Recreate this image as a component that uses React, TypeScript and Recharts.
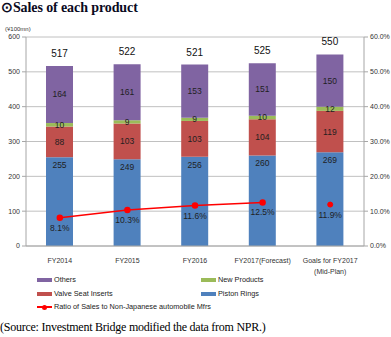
import {
  ComposedChart,
  Bar,
  Line,
  XAxis,
  YAxis,
  CartesianGrid,
  LabelList,
} from 'recharts';

const categories = ['FY2014', 'FY2015', 'FY2016', 'FY2017(Forecast)', 'Goals for FY2017\n(Mid-Plan)'];
const pistonRings = [255, 249, 256, 260, 269];
const valveSeatInserts = [88, 103, 103, 104, 119];
const newProducts = [10, 9, 9, 10, 12];
const others = [164, 161, 153, 151, 150];
const totals = [517, 522, 521, 525, 550];
const ratioActual = [8.1, 10.3, 11.6, 12.5, null];
const ratioGoal = [null, null, null, null, 11.9];
const leftTicks = [0, 100, 200, 300, 400, 500, 600];
const rightTicks = [0, 10, 20, 30, 40, 50, 60];

const COLORS = {
  piston: '#4f81bd',
  valve: '#c0504d',
  newProd: '#9bbb59',
  others: '#8064a2',
  ratio: '#ff0000',
};

const FONT = '"Liberation Sans", Arial, sans-serif';

const data = categories.map((name, i) => ({
  name,
  piston: pistonRings[i],
  valve: valveSeatInserts[i],
  newProd: newProducts[i],
  others: others[i],
  total: totals[i],
  ratio: ratioActual[i],
  ratioGoal: ratioGoal[i],
}));

const segLabel = { fontSize: 8.5, fill: '#1f1f1f', fontFamily: FONT };

function XTick({ x, y, payload }: any) {
  const lines = String(payload.value).split('\n');
  return (
    <text x={x} y={y + 9} textAnchor="middle" fontSize={7} fill="#333" fontFamily={FONT}>
      {lines.map((l, i) => (
        <tspan key={i} x={x} dy={i === 0 ? 0 : 11}>
          {l}
        </tspan>
      ))}
    </text>
  );
}

function TotalLabel(props: any) {
  const { x, y, width, index } = props;
  return (
    <text
      x={x + width / 2}
      y={y - 9}
      textAnchor="middle"
      fontSize={10}
      fill="#111"
      fontFamily={FONT}
    >
      {totals[index]}
    </text>
  );
}

function Swatch({ color }: { color: string }) {
  return <span style={{ display: 'inline-block', width: 15, height: 4, background: color, marginRight: 2 }} />;
}

const legendText: React.CSSProperties = {
  position: 'absolute',
  fontFamily: FONT,
  fontSize: 7.3,
  color: '#222',
  display: 'flex',
  alignItems: 'center',
  whiteSpace: 'nowrap',
  lineHeight: '10px',
};

export default function App() {
  return (
    <div style={{ position: 'absolute', left: 0, top: 0, width: 391, height: 337, background: '#fff' }}>
      <div
        style={{
          position: 'absolute',
          left: 1,
          top: -1,
          fontFamily: '"Liberation Serif", serif',
          fontWeight: 'bold',
          fontSize: 14,
          color: '#0a0a1e',
          letterSpacing: -0.1,
          whiteSpace: 'nowrap',
        }}
      >
        ⊙Sales of each product
      </div>
      <div style={{ position: 'absolute', left: 5, top: 26, fontFamily: FONT, fontSize: 6, color: '#333' }}>
        (¥100mn)
      </div>

      <ComposedChart
        width={391}
        height={280}
        data={data}
        margin={{ top: 37, right: 0, bottom: 0, left: 0 }}
        style={{ position: 'absolute', left: 0, top: 0 }}
      >
        <CartesianGrid vertical={false} stroke="#c0c0c0" yAxisId="left" />
        <XAxis
          dataKey="name"
          height={34}
          tick={<XTick />}
          tickLine={false}
          axisLine={{ stroke: '#a6a6a6' }}
          interval={0}
        />
        <YAxis
          yAxisId="left"
          width={26}
          domain={[0, 600]}
          ticks={leftTicks}
          tickSize={4}
          tickMargin={2}
          tick={{ fontSize: 7, fill: '#333', fontFamily: FONT }}
          axisLine={{ stroke: '#a6a6a6' }}
          tickLine={{ stroke: '#a6a6a6' }}
        />
        <YAxis
          yAxisId="right"
          orientation="right"
          width={27}
          domain={[0, 60]}
          ticks={rightTicks}
          tickSize={4}
          tickMargin={2}
          tickFormatter={(v: number) => `${v.toFixed(1)}%`}
          tick={{ fontSize: 7, fill: '#333', fontFamily: FONT }}
          axisLine={{ stroke: '#a6a6a6' }}
          tickLine={{ stroke: '#a6a6a6' }}
        />
        <Bar dataKey="piston" stackId="s" yAxisId="left" fill={COLORS.piston} barSize={27} isAnimationActive={false}>
          <LabelList dataKey="piston" position="insideTop" offset={5} style={segLabel} />
        </Bar>
        <Bar dataKey="valve" stackId="s" yAxisId="left" fill={COLORS.valve} barSize={27} isAnimationActive={false}>
          <LabelList dataKey="valve" position="center" style={segLabel} />
        </Bar>
        <Bar dataKey="newProd" stackId="s" yAxisId="left" fill={COLORS.newProd} barSize={27} isAnimationActive={false}>
          <LabelList dataKey="newProd" position="center" style={segLabel} />
        </Bar>
        <Bar dataKey="others" stackId="s" yAxisId="left" fill={COLORS.others} barSize={27} isAnimationActive={false}>
          <LabelList dataKey="others" position="center" style={segLabel} />
          <LabelList dataKey="total" content={<TotalLabel />} />
        </Bar>
        <Line
          dataKey="ratio"
          yAxisId="right"
          stroke={COLORS.ratio}
          strokeWidth={1.5}
          dot={{ r: 2.5, fill: COLORS.ratio, stroke: COLORS.ratio }}
          isAnimationActive={false}
        >
          <LabelList
            dataKey="ratio"
            position="bottom"
            offset={7}
            formatter={(v: any) => (v == null ? '' : `${Number(v).toFixed(1)}%`)}
            style={segLabel}
          />
        </Line>
        <Line
          dataKey="ratioGoal"
          yAxisId="right"
          stroke="none"
          dot={{ r: 2.5, fill: COLORS.ratio, stroke: COLORS.ratio }}
          isAnimationActive={false}
        >
          <LabelList
            dataKey="ratioGoal"
            position="bottom"
            offset={7}
            formatter={(v: any) => (v == null ? '' : `${Number(v).toFixed(1)}%`)}
            style={segLabel}
          />
        </Line>
      </ComposedChart>

      <div style={{ ...legendText, left: 37, top: 275 }}>
        <Swatch color={COLORS.others} />
        Others
      </div>
      <div style={{ ...legendText, left: 201, top: 275 }}>
        <Swatch color={COLORS.newProd} />
        New Products
      </div>
      <div style={{ ...legendText, left: 37, top: 289 }}>
        <Swatch color={COLORS.valve} />
        Valve Seat Inserts
      </div>
      <div style={{ ...legendText, left: 201, top: 289 }}>
        <Swatch color={COLORS.piston} />
        Piston Rings
      </div>
      <div style={{ ...legendText, left: 37, top: 302 }}>
        <span style={{ position: 'relative', display: 'inline-block', width: 15, height: 6, marginRight: 2 }}>
          <span style={{ position: 'absolute', left: 0, top: 2, width: 15, height: 1.5, background: COLORS.ratio }} />
          <span
            style={{
              position: 'absolute',
              left: 5,
              top: 0.5,
              width: 5,
              height: 5,
              borderRadius: 3,
              background: COLORS.ratio,
            }}
          />
        </span>
        Ratio of Sales to Non-Japanese automobile Mfrs
      </div>

      <div
        style={{
          position: 'absolute',
          left: 0,
          top: 320,
          fontFamily: '"Liberation Serif", serif',
          fontSize: 12,
          color: '#000',
          letterSpacing: -0.25,
          whiteSpace: 'nowrap',
        }}
      >
        (Source: Investment Bridge modified the data from NPR.)
      </div>
    </div>
  );
}
